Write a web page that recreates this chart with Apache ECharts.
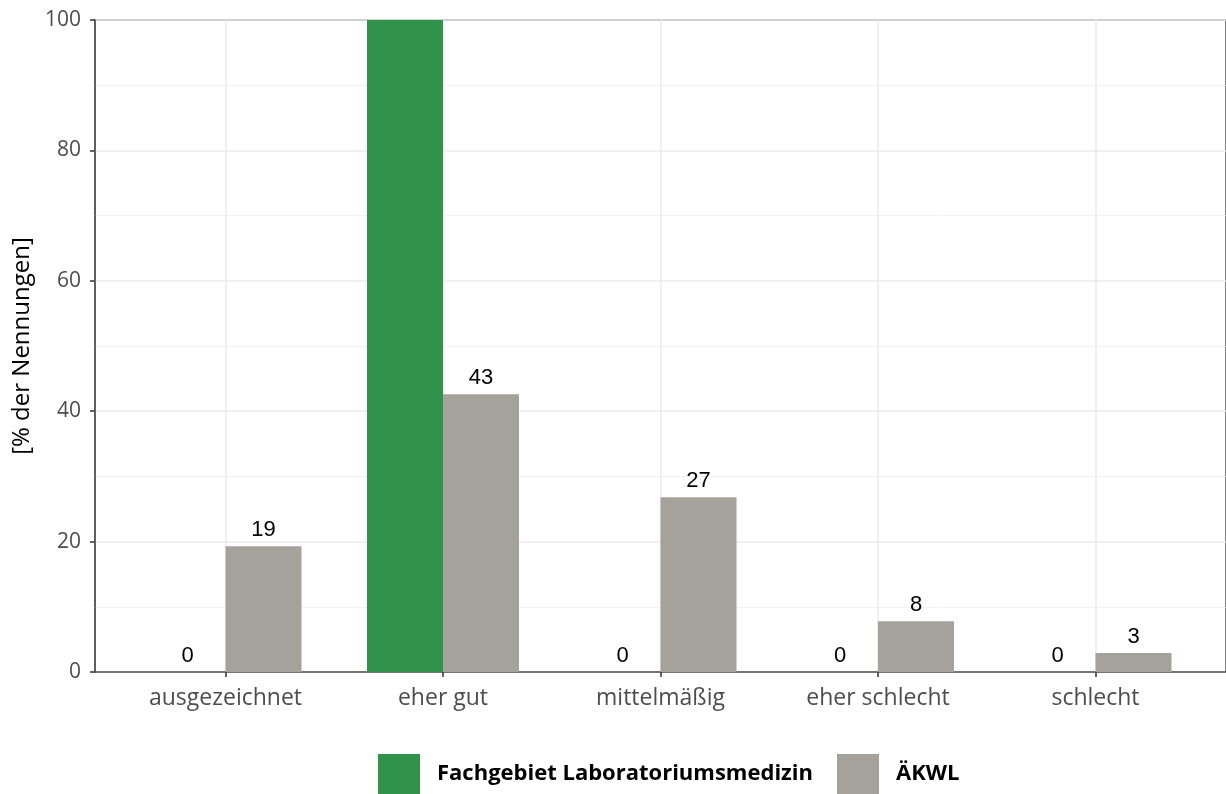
<!DOCTYPE html>
<html>
<head>
<meta charset="utf-8">
<script src="https://cdn.jsdelivr.net/npm/echarts@6/dist/echarts.min.js"></script>
<style>
html,body{margin:0;padding:0;background:#fff;}
#box{width:1226px;height:794px;}
</style>
</head>
<body>
<div id="box"></div>
<script>
// Kategorien und Werte (in % der Nennungen)
var categories = ['ausgezeichnet', 'eher gut', 'mittelmäßig', 'eher schlecht', 'schlecht'];
var seriesNames = ['Fachgebiet Laboratoriumsmedizin', 'ÄKWL'];
var labValues = [0, 100, 0, 0, 0];
var aekwlValues = [19.3, 42.6, 26.8, 7.8, 2.9];
var yTicks = [0, 20, 40, 60, 80, 100];

var positions = categories.map(function(c, i){ return i + 1; });

function toData(vals){
	return vals.map(function(v, i){ return [positions[i], v]; });
}

var labelStyle = {
	show: true,
	position: 'top',
	distance: 5,
	color: '#000',
	fontFamily: '"Liberation Sans", Arial, sans-serif',
	fontSize: 22,
	formatter: function(p){
		// Beschriftung ausserhalb des Panels wird abgeschnitten
		if (p.value[1] >= yTicks[yTicks.length - 1]) return '';
		return Math.round(p.value[1]);
	}
};

var chart = echarts.init(document.getElementById('box'));
var option = {
	animation: false,
	grid: {
		left: 95,
		right: 0,
		top: 20,
		bottom: 122,
		show: true,
		borderColor: '#555',
		borderWidth: 1.5
	},
	legend: {
		left: 378,
		top: 754,
		padding: 0,
		itemWidth: 42,
		itemHeight: 40,
		itemGap: 24,
		icon: 'rect',
		textStyle: {
			fontFamily: 'Open Sans',
			fontWeight: 'bold',
			fontSize: 22,
			color: '#000',
			padding: [0, 0, 0, 12]
		},
		data: seriesNames
	},
	xAxis: {
		type: 'value',
		min: 0.4,
		max: 5.6,
		axisLine: { show: true, lineStyle: { color: '#555', width: 1.5 } },
		axisTick: { show: true, length: 5, customValues: positions, lineStyle: { color: '#333', width: 1.5 } },
		axisLabel: {
			customValues: positions,
			margin: 15,
			color: '#4d4d4d',
			fontFamily: 'Open Sans',
			fontSize: 23,
			formatter: function(v){ return categories[Math.round(v) - 1] || ''; }
		},
		splitLine: { show: true, lineStyle: { color: '#ebebeb', width: 1.5 } }
	},
	yAxis: {
		type: 'value',
		min: 0,
		max: 100,
		interval: 20,
		name: '[% der Nennungen]',
		nameLocation: 'middle',
		nameGap: 60,
		nameTextStyle: { fontFamily: 'Open Sans', fontSize: 24, color: '#000' },
		axisLine: { show: true, lineStyle: { color: '#555', width: 1.5 } },
		axisTick: { show: true, length: 5, lineStyle: { color: '#333', width: 1.5 } },
		axisLabel: {
			margin: 14,
			color: '#4d4d4d',
			fontFamily: 'Open Sans',
			fontSize: 21
		},
		splitLine: { show: true, lineStyle: { color: '#ebebeb', width: 1.5 } },
		minorTick: { show: false, splitNumber: 2 },
		minorSplitLine: { show: true, lineStyle: { color: '#f2f2f2', width: 1 } }
	},
	series: [
		{
			name: seriesNames[0],
			type: 'bar',
			barWidth: 76,
			barGap: '0%',
			itemStyle: { color: '#31924a' },
			label: labelStyle,
			data: toData(labValues)
		},
		{
			name: seriesNames[1],
			type: 'bar',
			barWidth: 76,
			barGap: '0%',
			itemStyle: { color: '#a5a29b' },
			label: labelStyle,
			data: toData(aekwlValues)
		}
	]
};
chart.setOption(option);
</script>
</body>
</html>
